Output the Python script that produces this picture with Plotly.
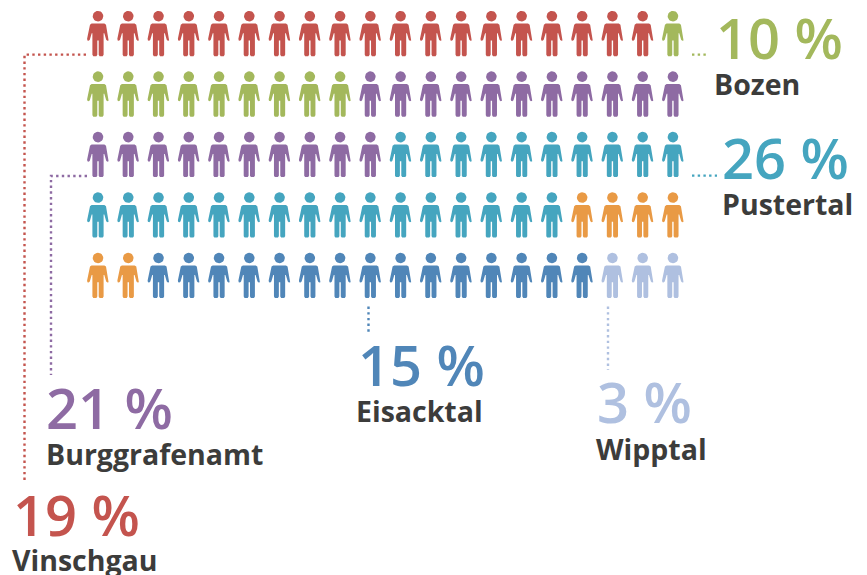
import math
import plotly.graph_objects as go

regions = ["Vinschgau", "Bozen", "Burggrafenamt", "Pustertal", "Eisacktal", "Wipptal"]
shares = [19, 10, 21, 26, 15, 3]
other_share = 6
colors = ["#C4544E", "#A3B85C", "#8E6BA3", "#45A5BF", "#5086B8", "#AFC0E0"]
other_color = "#E99A45"

# order of the figures in the pictogram
sequence = [("Vinschgau", 19, colors[0]), ("Bozen", 10, colors[1]), ("Burggrafenamt", 21, colors[2]),
            ("Pustertal", 26, colors[3]), ("andere", other_share, other_color),
            ("Eisacktal", 15, colors[4]), ("Wipptal", 3, colors[5])]

COLS, X0, DX, Y0, DY = 20, 98.0, 30.26, 16.2, 60.45

half = [(0, 7.4), (6.4, 7.4), (8.0, 8.6), (10.9, 22.6), (10.6, 24.2), (9.3, 24.6), (8.2, 23.6),
        (6.3, 17.0), (5.6, 17.0), (5.6, 38.6), (4.7, 40.0), (1.6, 40.0), (0.7, 38.6), (0.7, 24.2), (0, 24.2)]
body = half + [(-x, y) for x, y in reversed(half[1:-1])]
head = [(5.3 * math.cos(a * math.pi / 12), 5.3 * math.sin(a * math.pi / 12)) for a in range(24)]

fig = go.Figure()
idx = 0
for name, n, col in sequence:
    xs, ys = [], []
    for _ in range(n):
        cx = X0 + DX * (idx % COLS)
        cy = Y0 + DY * (idx // COLS)
        for part in (head, body):
            xs += [cx + px for px, _p in part] + [cx + part[0][0], None]
            ys += [cy + py for _p, py in part] + [cy + part[0][1], None]
        idx += 1
    fig.add_trace(go.Scatter(x=xs, y=ys, mode="lines", fill="toself", fillcolor=col,
                             line=dict(width=0, color=col), name=name, showlegend=False, hoverinfo="name"))

leaders = {
    "Vinschgau": ([86, 24.5, 24.5], [54.6, 54.6, 482]),
    "Bozen": ([692, 708], [54.6, 54.6]),
    "Burggrafenamt": ([87, 51, 51], [176, 176, 375]),
    "Pustertal": ([692, 717], [175.6, 175.6]),
    "Eisacktal": ([368.5, 368.5], [306.5, 332]),
    "Wipptal": ([608, 608], [306.5, 370]),
}
for r, c in zip(regions, colors):
    lx, ly = leaders[r]
    fig.add_trace(go.Scatter(x=lx, y=ly, mode="lines", showlegend=False, hoverinfo="skip",
                             line=dict(color=c, width=2.4, dash="2.4px,3.3px")))

pct_pos = {"Vinschgau": (13, 513.5), "Bozen": (716, 36.5), "Burggrafenamt": (46, 407),
           "Pustertal": (722, 156.5), "Eisacktal": (358, 364), "Wipptal": (597, 401)}
lab_pos = {"Vinschgau": (12, 560), "Bozen": (714, 83.5), "Burggrafenamt": (46, 453.5),
           "Pustertal": (722, 203.5), "Eisacktal": (356, 411), "Wipptal": (596, 449)}
FONT = "Open Sans"
for r, s, c in zip(regions, shares, colors):
    x, y = pct_pos[r]
    fig.add_annotation(x=x, y=y, text=f"{s} %", xref="x", yref="y", xanchor="left", yanchor="middle",
                       showarrow=False, borderpad=0, borderwidth=0,
                       font=dict(family=FONT, size=56, color=c, weight=600))
    x, y = lab_pos[r]
    fig.add_annotation(x=x, y=y, text=r, xref="x", yref="y", xanchor="left", yanchor="middle",
                       showarrow=False, borderpad=0, borderwidth=0,
                       font=dict(family=FONT, size=28.5, color="#3C3C3B", weight=700))

fig.update_layout(width=867, height=575, margin=dict(l=0, r=0, t=0, b=0),
                  paper_bgcolor="white", plot_bgcolor="white", autosize=False,
                  xaxis=dict(range=[0, 867], visible=False, fixedrange=True),
                  yaxis=dict(range=[575, 0], visible=False, fixedrange=True))
fig.write_html("out.html", config={"displayModeBar": False},
               post_script="document.body.style.margin='0';document.body.style.overflow='hidden';")
